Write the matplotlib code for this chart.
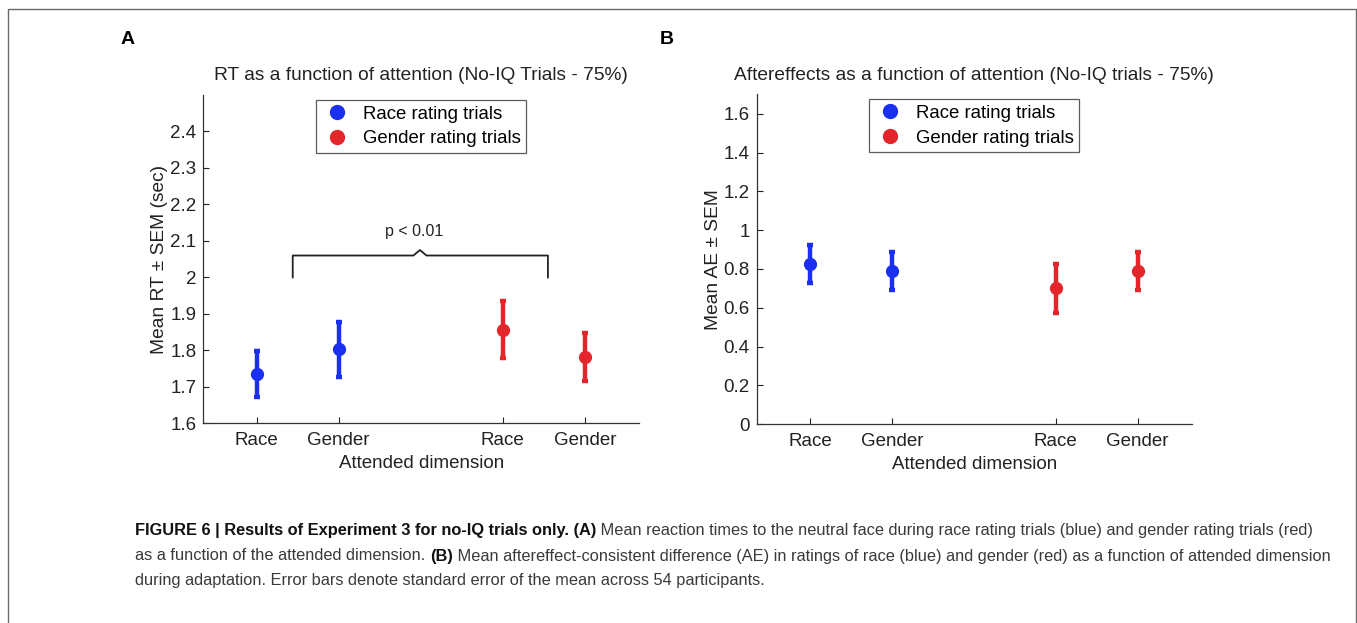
import numpy as np
import matplotlib
matplotlib.use('Agg')
import matplotlib.pyplot as plt
from matplotlib.lines import Line2D
from matplotlib.patches import Rectangle

plt.rcParams['font.family'] = ['Liberation Sans', 'DejaVu Sans']

# x positions of the four conditions
x_race_trials = [1, 2]
x_gender_trials = [4, 5]
tick_pos = [1, 2, 4, 5]
tick_labels = ['Race', 'Gender', 'Race', 'Gender']

# Panel A: reaction times (sec)
rt_race_mean = [1.734, 1.803]
rt_race_sem = [0.063, 0.075]
rt_gender_mean = [1.856, 1.781]
rt_gender_sem = [0.078, 0.066]

# Panel B: aftereffects
ae_race_mean = [0.826, 0.789]
ae_race_sem = [0.100, 0.096]
ae_gender_mean = [0.700, 0.790]
ae_gender_sem = [0.125, 0.100]

rt_ticks = [1.6, 1.7, 1.8, 1.9, 2.0, 2.1, 2.2, 2.3, 2.4]
rt_ticklabels = ['1.6', '1.7', '1.8', '1.9', '2', '2.1', '2.2', '2.3', '2.4']
ae_ticks = [0, 0.2, 0.4, 0.6, 0.8, 1.0, 1.2, 1.4, 1.6]
ae_ticklabels = ['0', '0.2', '0.4', '0.6', '0.8', '1', '1.2', '1.4', '1.6']

# significance bracket in panel A (data coords)
br_x0, br_x1, br_mid = 1.44, 4.55, 2.99
br_low, br_y, br_peak = 2.0, 2.06, 2.075

BLUE = '#1b2ff0'
RED = '#e3262b'

fig = plt.figure(figsize=(13.57, 6.23), dpi=100)

# outer frame of the figure page
fig.patches.append(Rectangle((8 / 1357, -0.05), (1355.5 - 8) / 1357, 1.05 - 9 / 623,
                             transform=fig.transFigure, fill=False,
                             edgecolor='#6a6a6a', linewidth=1.0))

axA = fig.add_axes([0.1498, 0.3205, 0.3211, 0.527])
axB = fig.add_axes([0.5576, 0.3190, 0.3206, 0.5296])


def draw_panel(ax, rm, rs, gm, gs, ylim, yt, ytl, ylabel, title, lpad):
    kw = dict(fmt='o', markersize=8.5, elinewidth=3.2, capsize=2.4, capthick=3.2)
    ax.errorbar(x_race_trials, rm, yerr=rs, color=BLUE, **kw)
    ax.errorbar(x_gender_trials, gm, yerr=gs, color=RED, **kw)
    ax.set_xlim(0.35, 5.66)
    ax.set_ylim(*ylim)
    ax.set_xticks(tick_pos)
    ax.set_xticklabels(tick_labels)
    ax.set_yticks(yt)
    ax.set_yticklabels(ytl)
    for s in ['top', 'right']:
        ax.spines[s].set_visible(False)
    for s in ['left', 'bottom']:
        ax.spines[s].set_color('#333333')
        ax.spines[s].set_linewidth(0.9)
    ax.tick_params(direction='in', length=4, width=0.8, labelsize=13.5,
                   colors='#222222', pad=5)
    ax.tick_params(axis='x', pad=6.5)
    ax.set_xlabel('Attended dimension', fontsize=13.5, labelpad=4, color='#222222')
    ax.set_ylabel(ylabel, fontsize=13.8, labelpad=lpad, color='#222222')
    ax.set_title(title, fontsize=13.8, pad=10.5, color='#222222')
    handles = [Line2D([], [], marker='o', linestyle='none', color=BLUE, markersize=10),
               Line2D([], [], marker='o', linestyle='none', color=RED, markersize=10)]
    leg = ax.legend(handles, ['Race rating trials', 'Gender rating trials'],
                    loc='upper center', bbox_to_anchor=(0.5, 0.985), borderaxespad=0,
                    fontsize=13.4, fancybox=False, edgecolor='#333333',
                    handletextpad=0.6, borderpad=0.3, labelspacing=0.42,
                    handlelength=1.6)
    leg.get_frame().set_linewidth(0.9)


draw_panel(axA, rt_race_mean, rt_race_sem, rt_gender_mean, rt_gender_sem,
           (1.6, 2.5), rt_ticks, rt_ticklabels, 'Mean RT \u00b1 SEM (sec)',
           'RT as a function of attention (No-IQ Trials - 75%)', 1.5)
draw_panel(axB, ae_race_mean, ae_race_sem, ae_gender_mean, ae_gender_sem,
           (0, 1.7), ae_ticks, ae_ticklabels, 'Mean AE \u00b1 SEM',
           'Aftereffects as a function of attention (No-IQ trials - 75%)', 1)

# bracket with caret
axA.plot([br_x0, br_x0, br_mid - 0.08, br_mid, br_mid + 0.08, br_x1, br_x1],
         [br_low, br_y, br_y, br_peak, br_y, br_y, br_low],
         color='#222222', linewidth=1.3)
axA.text(br_mid - 0.07, 2.125, 'p < 0.01', ha='center', va='center',
         fontsize=11.5, color='#222222')

# panel letters
fig.text(127.7 / 1357, 1 - 40 / 623, 'A', fontsize=14, fontweight='bold',
         ha='center', va='center')
fig.text(667 / 1357, 1 - 40 / 623, 'B', fontsize=14, fontweight='bold',
         ha='center', va='center')

# caption, built from bold/regular segments
caption = [
    [('FIGURE 6 | Results of Experiment 3 for no-IQ trials only. (A)', 'bold'),
     (' Mean reaction times to the neutral face during race rating trials (blue) '
      'and gender rating trials (red)', 'normal')],
    [('as a function of the attended dimension. ', 'normal'), ('(B)', 'bold'),
     (' Mean aftereffect-consistent difference (AE) in ratings of race (blue) and '
      'gender (red) as a function of attended dimension', 'normal')],
    [('during adaptation. Error bars denote standard error of the mean across '
      '54 participants.', 'normal')],
]
line_y = [531, 556, 580]

fig.canvas.draw()
renderer = fig.canvas.get_renderer()
for segs, yy in zip(caption, line_y):
    x = 135.0
    for txt, wt in segs:
        t = fig.text(x / 1357, 1 - yy / 623, txt, fontsize=11.75, fontweight=wt,
                     color='#111111' if wt == 'bold' else '#3a3a3a',
                     ha='left', va='center')
        bb = t.get_window_extent(renderer=renderer)
        x += bb.width

fig.savefig('out.png', dpi=100)
